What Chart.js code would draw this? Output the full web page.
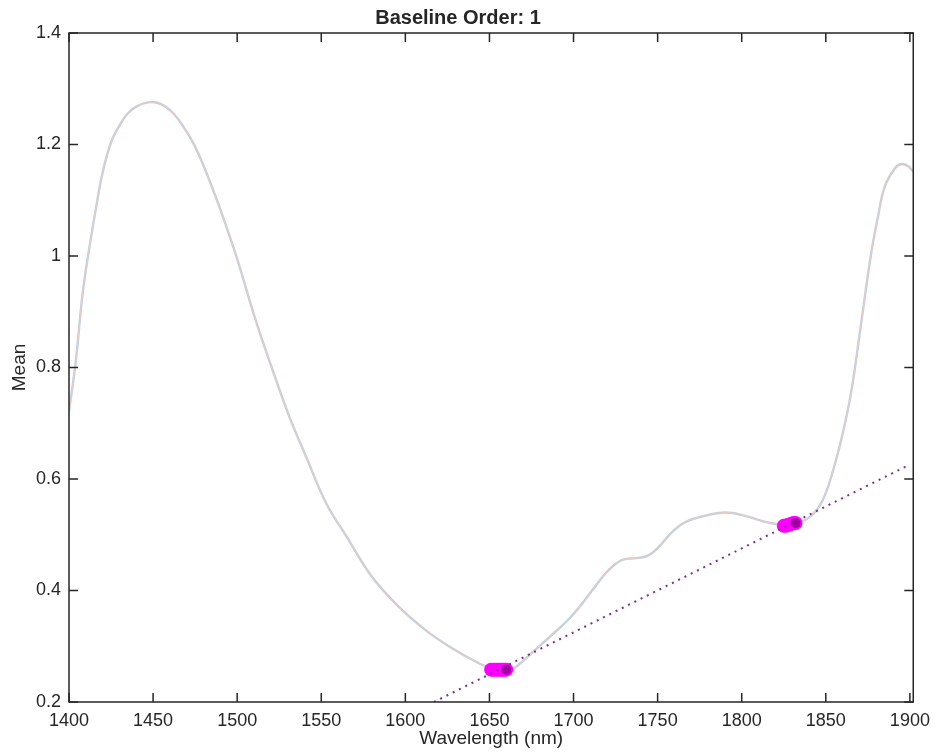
<!DOCTYPE html>
<html lang="en">
<head>
    <meta charset="UTF-8">
    <title>Baseline Order: 1</title>
    <script src="https://cdn.jsdelivr.net/npm/chart.js"></script>
    <style>
        body { margin: 0; background: #fff; }
        #wrap { width: 938px; height: 752px; }
    </style>
</head>
<body>
    <div id="wrap"><canvas id="baselineChart"></canvas></div>

    <script>
        // mean spectrum
        const wavelengths = [1400, 1404, 1408, 1412, 1416, 1420, 1425, 1430, 1435, 1440, 1448, 1455, 1462, 1468, 1474, 1480, 1488, 1495, 1500,
            1511, 1521, 1531, 1541, 1553, 1565, 1580, 1596, 1612, 1628, 1644, 1652, 1658, 1662, 1667, 1677, 1687, 1697, 1705,
            1711, 1721, 1729, 1737, 1744, 1751, 1758, 1766, 1778, 1790, 1802, 1814, 1824, 1830, 1838, 1845, 1850, 1854, 1859,
            1865, 1871, 1877, 1881, 1885, 1891, 1895, 1899, 1902];
        const meanValues = [0.721, 0.81, 0.93, 1.013, 1.085, 1.15, 1.204, 1.234, 1.256, 1.268, 1.276, 1.272, 1.256, 1.232, 1.202, 1.162, 1.100, 1.040, 0.995,
            0.885, 0.796, 0.712, 0.640, 0.556, 0.497, 0.425, 0.371, 0.329, 0.296, 0.269, 0.259, 0.256, 0.256, 0.266, 0.293, 0.320, 0.348, 0.376,
            0.400, 0.437, 0.455, 0.458, 0.462, 0.479, 0.503, 0.522, 0.534, 0.540, 0.534, 0.523, 0.518, 0.520, 0.527, 0.546, 0.575, 0.612, 0.668,
            0.754, 0.879, 1.005, 1.070, 1.124, 1.157, 1.165, 1.161, 1.151];

        // anchor regions used for the fit
        const anchorX = [1651, 1652, 1653, 1654, 1655, 1656, 1657, 1658, 1659, 1660, 1825, 1826, 1827, 1828, 1829, 1830, 1831, 1832];
        const anchorY = [0.258, 0.258, 0.258, 0.258, 0.258, 0.258, 0.258, 0.258, 0.258, 0.258, 0.516, 0.516, 0.517, 0.518, 0.519, 0.520, 0.521, 0.521];
        const pickedX = [1660, 1832];
        const pickedY = [0.258, 0.521];

        // first order baseline
        const baselineX = [1617, 1900];
        const baselineY = [0.2, 0.626];

        const xTicks = [1400, 1450, 1500, 1550, 1600, 1650, 1700, 1750, 1800, 1850, 1900];
        const yTicks = [0.2, 0.4, 0.6, 0.8, 1, 1.2, 1.4];
        const yTickLabels = ["0.2", "0.4", "0.6", "0.8", "1", "1.2", "1.4"];

        const ink = "#262626";
        const fontFamily = "'Liberation Sans', Arial, Helvetica, sans-serif";

        const zip = (xs, ys) => xs.map((x, i) => ({ x: x, y: ys[i] }));

        // box around the axes with ticks pointing inwards
        const boxTicks = {
            id: "boxTicks",
            afterDatasetsDraw(chart) {
                const { ctx, chartArea: a, scales } = chart;
                const len = 9;
                ctx.save();
                ctx.strokeStyle = ink;
                ctx.lineWidth = 1.5;
                ctx.strokeRect(a.left, a.top, a.right - a.left, a.bottom - a.top);
                ctx.beginPath();
                xTicks.forEach(v => {
                    const px = scales.x.getPixelForValue(v);
                    ctx.moveTo(px, a.bottom); ctx.lineTo(px, a.bottom - len);
                    ctx.moveTo(px, a.top); ctx.lineTo(px, a.top + len);
                });
                yTicks.forEach(v => {
                    const py = scales.y.getPixelForValue(v);
                    ctx.moveTo(a.left, py); ctx.lineTo(a.left + len, py);
                    ctx.moveTo(a.right, py); ctx.lineTo(a.right - len, py);
                });
                ctx.stroke();
                ctx.restore();
            }
        };

        new Chart(document.getElementById("baselineChart"), {
            type: "line",
            data: {
                datasets: [
                    {
                        label: "baseline",
                        data: zip(baselineX, baselineY),
                        borderColor: "rgb(126, 47, 142)",
                        borderWidth: 2,
                        borderDash: [2, 5],
                        pointRadius: 0,
                        order: 0
                    },
                    {
                        label: "picked",
                        data: zip(pickedX, pickedY),
                        showLine: false,
                        pointRadius: 5,
                        pointBorderWidth: 0,
                        pointBackgroundColor: "rgb(160, 0, 160)",
                        order: 1
                    },
                    {
                        label: "anchors",
                        data: zip(anchorX, anchorY),
                        showLine: false,
                        pointRadius: 7,
                        pointBorderWidth: 0,
                        pointBackgroundColor: "rgb(255, 0, 255)",
                        order: 2
                    },
                    {
                        label: "mean",
                        data: zip(wavelengths, meanValues),
                        borderColor: "rgb(234, 202, 196)",
                        borderWidth: 1,
                        pointRadius: 0,
                        tension: 0.4,
                        order: 3
                    },
                    {
                        label: "mean (all)",
                        data: zip(wavelengths, meanValues),
                        borderColor: "rgb(192, 208, 222)",
                        borderWidth: 2.4,
                        pointRadius: 0,
                        tension: 0.4,
                        order: 4
                    }
                ]
            },
            options: {
                responsive: true,
                maintainAspectRatio: false,
                animation: false,
                layout: { padding: { left: 0, right: 22, top: 0, bottom: 0 } },
                plugins: {
                    legend: { display: false },
                    tooltip: { enabled: false },
                    title: {
                        display: true,
                        text: "Baseline Order: 1",
                        color: ink,
                        font: { family: fontFamily, size: 20, weight: "bold", lineHeight: 1.2 },
                        padding: { top: 6, bottom: 3 }
                    }
                },
                scales: {
                    x: {
                        type: "linear",
                        min: 1400,
                        max: 1902,
                        afterBuildTicks: s => { s.ticks = xTicks.map(v => ({ value: v })); },
                        afterFit: s => { s.height = 50; },
                        grid: { display: false, drawTicks: false },
                        border: { display: false },
                        ticks: {
                            color: ink,
                            padding: 8,
                            maxRotation: 0,
                            font: { family: fontFamily, size: 18 },
                            callback: v => String(v)
                        },
                        title: {
                            display: true,
                            text: "Wavelength (nm)",
                            color: ink,
                            font: { family: fontFamily, size: 19, lineHeight: 1.2 },
                            padding: { top: 0, bottom: 2 }
                        }
                    },
                    y: {
                        type: "linear",
                        min: 0.2,
                        max: 1.4,
                        afterBuildTicks: s => { s.ticks = yTicks.map(v => ({ value: v })); },
                        afterFit: s => { s.width = 69; },
                        grid: { display: false, drawTicks: false },
                        border: { display: false },
                        ticks: {
                            color: ink,
                            padding: 8,
                            font: { family: fontFamily, size: 18 },
                            callback: v => yTickLabels[yTicks.indexOf(v)]
                        },
                        title: {
                            display: true,
                            text: "Mean",
                            color: ink,
                            font: { family: fontFamily, size: 19, lineHeight: 1.2 },
                            padding: { top: 8, bottom: 0 }
                        }
                    }
                }
            },
            plugins: [boxTicks]
        });
    </script>
</body>
</html>
